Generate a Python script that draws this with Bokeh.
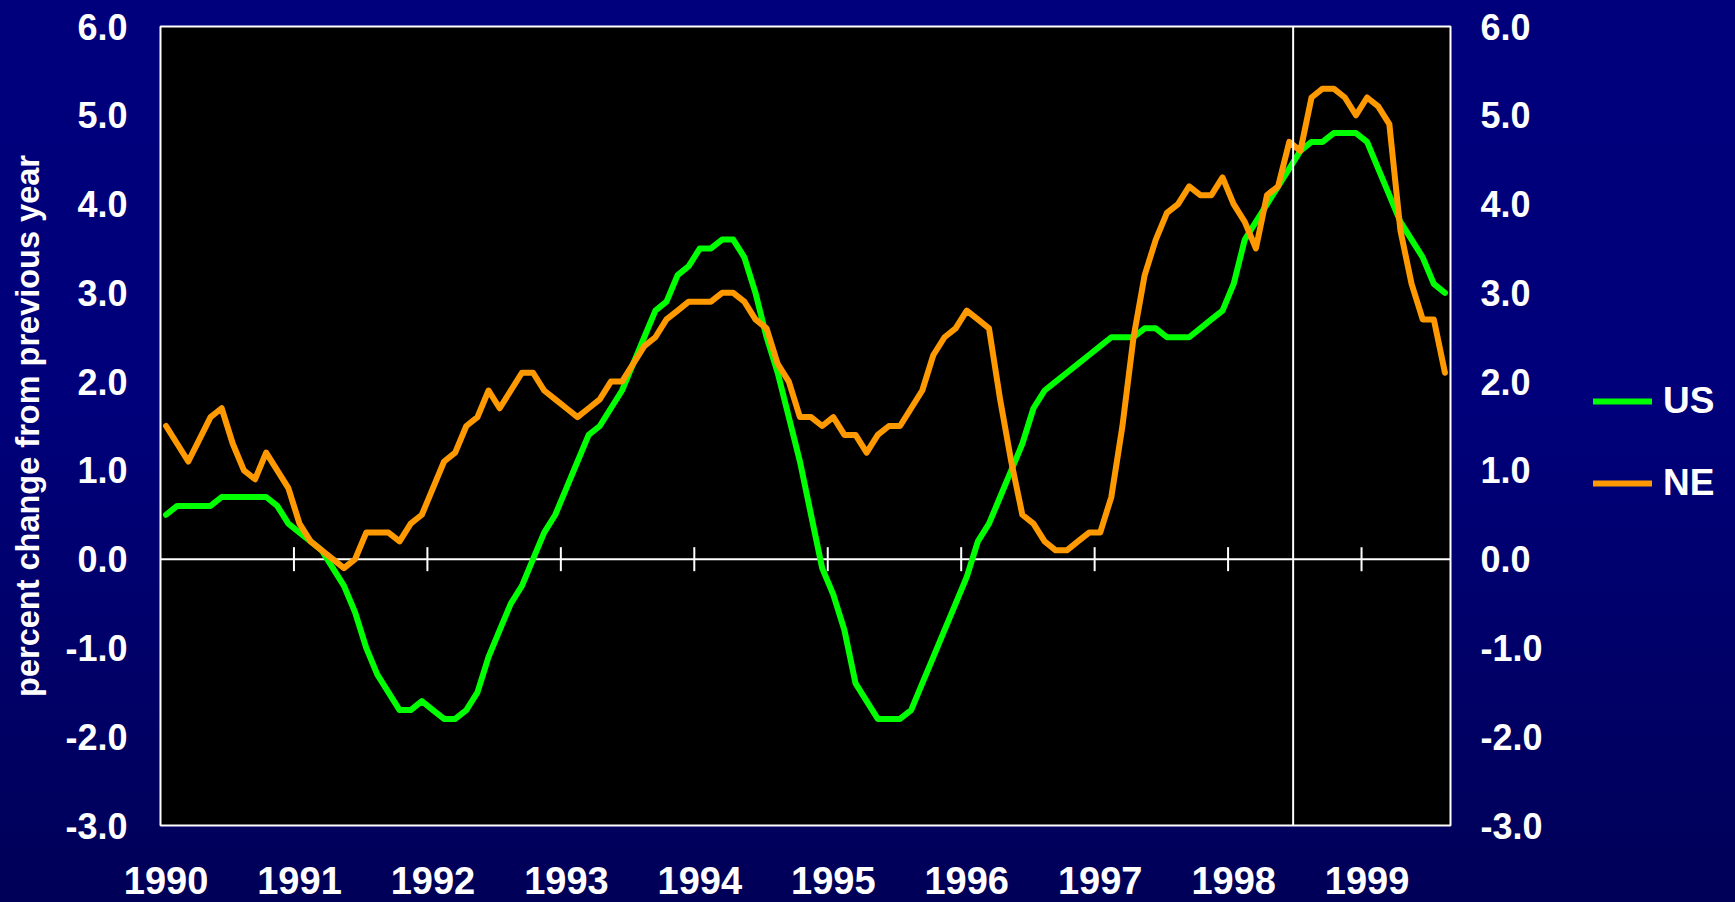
from bokeh.plotting import figure
from bokeh.layouts import row
from bokeh.models import (Range1d, LinearAxis, FixedTicker, PrintfTickFormatter, Span,
                          Legend, LegendItem, GlobalInlineStyleSheet)
from bokeh.embed import file_html
from bokeh.resources import INLINE

# ---------------- data (monthly, Jan 1990 - Aug 1999) ----------------
years = [1990, 1991, 1992, 1993, 1994, 1995, 1996, 1997, 1998, 1999]
months_per_year = 12

us = [0.5, 0.6, 0.6, 0.6, 0.6, 0.7, 0.7, 0.7, 0.7, 0.7, 0.6, 0.4,
      0.3, 0.2, 0.1, -0.1, -0.3, -0.6, -1.0, -1.3, -1.5, -1.7, -1.7, -1.6,
      -1.7, -1.8, -1.8, -1.7, -1.5, -1.1, -0.8, -0.5, -0.3, 0.0, 0.3, 0.5,
      0.8, 1.1, 1.4, 1.5, 1.7, 1.9, 2.2, 2.5, 2.8, 2.9, 3.2, 3.3,
      3.5, 3.5, 3.6, 3.6, 3.4, 3.0, 2.5, 2.1, 1.6, 1.1, 0.5, -0.1,
      -0.4, -0.8, -1.4, -1.6, -1.8, -1.8, -1.8, -1.7, -1.4, -1.1, -0.8, -0.5,
      -0.2, 0.2, 0.4, 0.7, 1.0, 1.3, 1.7, 1.9, 2.0, 2.1, 2.2, 2.3,
      2.4, 2.5, 2.5, 2.5, 2.6, 2.6, 2.5, 2.5, 2.5, 2.6, 2.7, 2.8,
      3.1, 3.6, 3.8, 4.0, 4.2, 4.4, 4.6, 4.7, 4.7, 4.8, 4.8, 4.8,
      4.7, 4.4, 4.1, 3.8, 3.6, 3.4, 3.1, 3.0]

ne = [1.5, 1.3, 1.1, 1.35, 1.6, 1.7, 1.3, 1.0, 0.9, 1.2, 1.0, 0.8,
      0.4, 0.2, 0.1, 0.0, -0.1, 0.0, 0.3, 0.3, 0.3, 0.2, 0.4, 0.5,
      0.8, 1.1, 1.2, 1.5, 1.6, 1.9, 1.7, 1.9, 2.1, 2.1, 1.9, 1.8,
      1.7, 1.6, 1.7, 1.8, 2.0, 2.0, 2.2, 2.4, 2.5, 2.7, 2.8, 2.9,
      2.9, 2.9, 3.0, 3.0, 2.9, 2.7, 2.6, 2.2, 2.0, 1.6, 1.6, 1.5,
      1.6, 1.4, 1.4, 1.2, 1.4, 1.5, 1.5, 1.7, 1.9, 2.3, 2.5, 2.6,
      2.8, 2.7, 2.6, 1.8, 1.1, 0.5, 0.4, 0.2, 0.1, 0.1, 0.2, 0.3,
      0.3, 0.7, 1.5, 2.5, 3.2, 3.6, 3.9, 4.0, 4.2, 4.1, 4.1, 4.3,
      4.0, 3.8, 3.5, 4.1, 4.2, 4.7, 4.6, 5.2, 5.3, 5.3, 5.2, 5.0,
      5.2, 5.1, 4.9, 3.7, 3.1, 2.7, 2.7, 2.1]

series_names = ["US", "NE"]
series_colors = ["#00ff00", "#ff9900"]
y_ticks = [-3.0, -2.0, -1.0, 0.0, 1.0, 2.0, 3.0, 4.0, 5.0, 6.0]
y_title = "percent change from previous year"
divider_month = 101.85   # vertical marker line (mid-1998)

# ---------------- main figure ----------------
FONT = "Liberation Sans"
W, H = 1735, 902
W1 = 1560                      # chart part; the rest holds the legend
n = len(us)
x = [i + 0.5 for i in range(n)]
y_lo, y_hi = y_ticks[0], y_ticks[-1]

p = figure(width=W1, height=H, output_backend="svg", toolbar_location=None,
           x_range=Range1d(0, n), y_range=Range1d(y_lo, y_hi),
           x_axis_type=None, y_axis_type=None,
           min_border_left=160, min_border_right=110, min_border_top=26, min_border_bottom=77,
           background_fill_color="black", border_fill_alpha=0,
           outline_line_color="white", outline_line_width=2)

p.stylesheets = [GlobalInlineStyleSheet(css=(
    "html{min-height:100%;background:linear-gradient(to bottom,#00007c 0%,#00007a 45%,#000058 100%);}"
    "body{background:transparent;}"))]

# year labels along the bottom (one per January)
label_ticks = [months_per_year * k + 0.5 for k in range(len(years))]
xaxis = LinearAxis(ticker=FixedTicker(ticks=label_ticks),
                   major_label_overrides={t: str(yv) for t, yv in zip(label_ticks, years)},
                   axis_line_color=None, major_tick_line_color=None, minor_tick_line_color=None,
                   major_tick_in=0, major_tick_out=0, major_label_standoff=41,
                   major_label_text_font=FONT, major_label_text_font_style="bold",
                   major_label_text_font_size="38px", major_label_text_color="white")
p.add_layout(xaxis, "below")

def yaxis(**kw):
    return LinearAxis(ticker=FixedTicker(ticks=y_ticks),
                      formatter=PrintfTickFormatter(format="%.1f"),
                      axis_line_color=None, major_tick_line_color=None, minor_tick_line_color=None,
                      major_tick_in=0, major_tick_out=0,
                      major_label_text_font=FONT, major_label_text_font_style="bold",
                      major_label_text_font_size="36px", major_label_text_color="white", **kw)

yl = yaxis(major_label_standoff=33, axis_label=y_title,
           axis_label_text_font=FONT, axis_label_text_font_style="bold",
           axis_label_text_font_size="32.5px", axis_label_text_color="white",
           axis_label_standoff=16)
p.add_layout(yl, "left")
yr = yaxis(major_label_standoff=30)
p.add_layout(yr, "right")

# zero line with year-boundary tick marks crossing it
p.add_layout(Span(location=0, dimension="width", line_color="white", line_width=2, level="underlay"))
bounds = [months_per_year * k for k in range(1, len(years))]
tick_half = 12 * (y_hi - y_lo) / 799.0
p.segment(x0=bounds, x1=bounds, y0=[-tick_half] * len(bounds), y1=[tick_half] * len(bounds),
          line_color="white", line_width=2)

for vals, col in zip([us, ne], series_colors):
    p.line(x, vals, line_color=col, line_width=6, line_join="round", line_cap="round")

p.add_layout(Span(location=divider_month, dimension="height", line_color="white", line_width=2))

# ---------------- legend panel ----------------
# the series are drawn here too, but outside this panel's visible range, only to key the legend
p2 = figure(width=W - W1, height=H, output_backend="svg", toolbar_location=None,
            x_range=Range1d(-2, -1), y_range=Range1d(y_lo, y_hi), x_axis_type=None, y_axis_type=None,
            min_border_left=0, min_border_right=0, min_border_top=0, min_border_bottom=0,
            background_fill_alpha=0, border_fill_alpha=0, outline_line_color=None)
keys = [p2.line(x, vals, line_color=col, line_width=6, line_cap="round")
        for vals, col in zip([us, ne], series_colors)]
legend = Legend(items=[LegendItem(label=nm, renderers=[r]) for nm, r in zip(series_names, keys)],
                location=(33, 320), orientation="vertical",
                padding=0, margin=0, spacing=38,
                glyph_width=59, glyph_height=44, label_height=44, label_standoff=11,
                label_text_font=FONT, label_text_font_style="bold", label_text_font_size="37px",
                label_text_color="white", border_line_alpha=0, background_fill_alpha=0)
p2.add_layout(legend)

layout = row(p, p2, spacing=0)
open("out.html", "w").write(file_html(layout, INLINE))
